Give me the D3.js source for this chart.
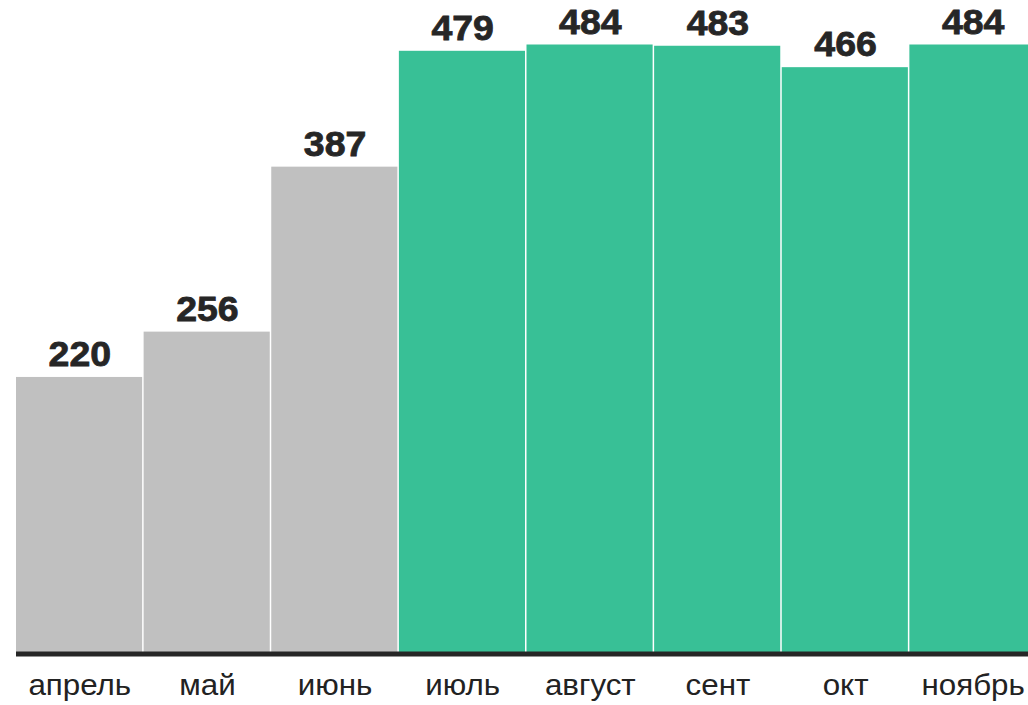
<!doctype html>
<html>
<head>
<meta charset="utf-8">
<style>
	body { margin: 0; background: #fff; overflow: hidden; }
	.bar-label {
		font: bold 35px "Liberation Sans", Arial, sans-serif;
		fill: #262626;
		stroke: #262626;
		stroke-width: 0.8px;
		text-anchor: middle;
	}
	.cat-label {
		font: 29px "Liberation Sans", Arial, sans-serif;
		fill: #222;
		text-anchor: middle;
	}
</style>
<script src="https://d3js.org/d3.v7.min.js"></script>
</head>
<body>
<div id="canvas"></div>
<script>
	var months = ["апрель", "май", "июнь", "июль", "август", "сент", "окт", "ноябрь"];
	var values = [220, 256, 387, 479, 484, 483, 466, 484];
	var highlighted = [false, false, false, true, true, true, true, true];

	var width = 1028,
		height = 705,
		// the last bar runs past the right edge in the source
		margin = {top: 44.5, right: -9, bottom: 51, left: 16};

	var data = months.map((m, i) => ({month: m, value: values[i], hi: highlighted[i]}));

	var svg = d3.select("#canvas")
		.append("svg")
		.attr("width", width)
		.attr("height", height);

	var scale_x = d3.scaleBand()
		.domain(months)
		.range([margin.left, width - margin.right])
		.padding(0);

	var scale_y = d3.scaleLinear()
		.domain([0, d3.max(values)])
		.range([height - margin.bottom, margin.top]);

	var cx = d => scale_x(d.month) + scale_x.bandwidth() / 2;

	svg.selectAll(".bar")
		.data(data).enter()
		.append("rect")
		.attr("class", "bar")
		.attr("x", d => scale_x(d.month))
		.attr("y", d => scale_y(d.value))
		.attr("width", scale_x.bandwidth() - 1.5)
		.attr("height", d => scale_y(0) - scale_y(d.value))
		.attr("fill", d => d.hi ? "#38c096" : "#c0c0c0");

	// text in the source is slightly stretched horizontally
	svg.selectAll(".bar-label")
		.data(data).enter()
		.append("text")
		.attr("class", "bar-label")
		.attr("transform", d => `translate(${cx(d)}, ${scale_y(d.value) - 11}) scale(1.07, 1)`)
		.text(d => d.value);

	// baseline
	svg.append("line")
		.attr("x1", margin.left)
		.attr("x2", width)
		.attr("y1", scale_y(0))
		.attr("y2", scale_y(0))
		.attr("stroke", "#262626")
		.attr("stroke-width", 5);

	svg.selectAll(".cat-label")
		.data(data).enter()
		.append("text")
		.attr("class", "cat-label")
		.attr("transform", d => `translate(${cx(d)}, 695) scale(1.08, 1)`)
		.text(d => d.month);
</script>
</body>
</html>
